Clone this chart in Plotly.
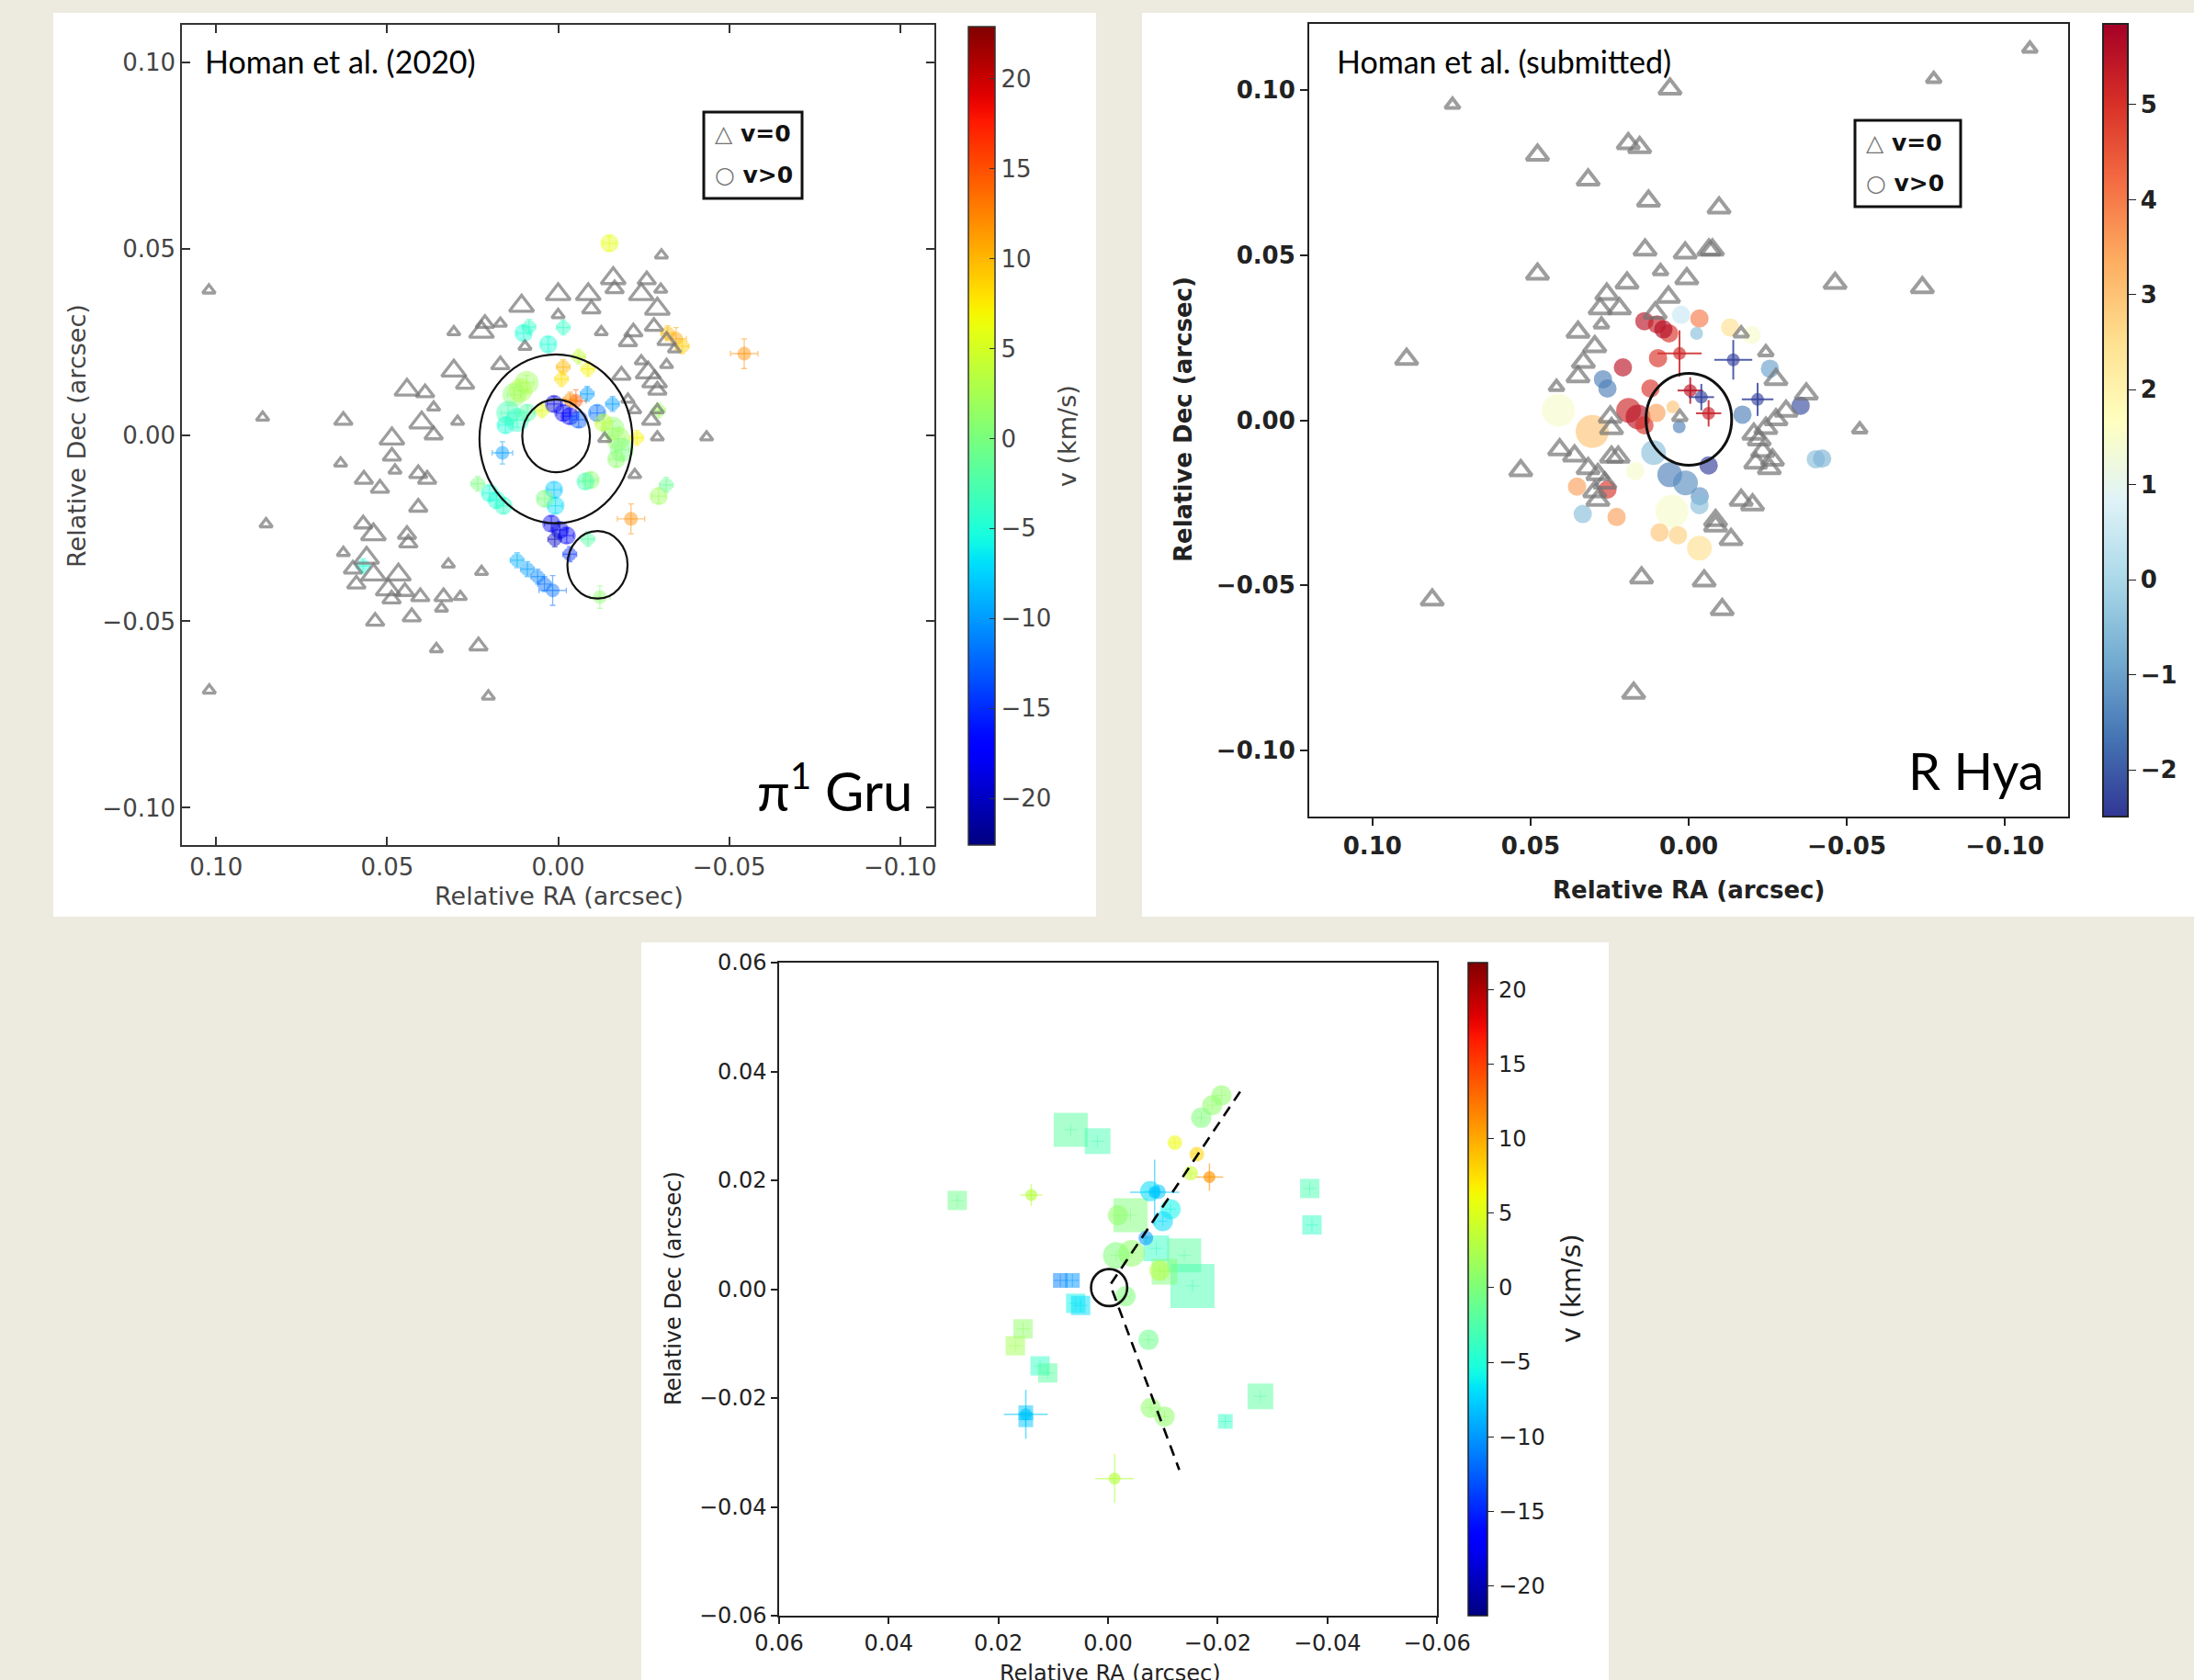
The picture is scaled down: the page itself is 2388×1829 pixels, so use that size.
import numpy as np
import plotly.graph_objects as go

W, H = 2388, 1829
def PX(px): return px / W
def PY(py): return 1 - py / H

# ======================= DATA =======================
# --- Panel A: pi1 Gru (Homan et al. 2020) ---
gru_tri_ra = [0.1021, 0.1020, 0.0864, 0.0854, 0.0628, 0.0636, 0.0628, 0.0568, 0.0570, 0.0521,
              0.0535, 0.0486, 0.0486, 0.0477, 0.0442, 0.0389, 0.0364, 0.0399, 0.0364, 0.0409,
              0.0383, 0.0409, 0.0294, 0.0305, 0.0305, 0.0272, 0.0224, 0.0214, 0.0169, 0.0169,
              0.0107, 0.0097, 0.0000, 0.0000, -0.0088, -0.0097, -0.0126, -0.0161, -0.0165, -0.0243,
              -0.0259, -0.0302, -0.0300, -0.0290, -0.0220, -0.0204, -0.0280, -0.0317, -0.0340, -0.0243,
              -0.0263, -0.0282, -0.0290, -0.0317, -0.0185, -0.0204, -0.0224, -0.0272, -0.0290, -0.0290,
              -0.0434, -0.0224, -0.0136, 0.0540, 0.0560, 0.0540, 0.0497, 0.0467, 0.0487, 0.0448,
              0.0403, 0.0428, 0.0321, 0.0335, 0.0341, 0.0286, 0.0356, 0.0224, 0.0233, 0.0204,
              0.0442, 0.0438, 0.0600, 0.0590]
gru_tri_dec = [0.0388, -0.0685, 0.0047, -0.0239, 0.0039, -0.0076, -0.0316, -0.0119, -0.0239, -0.0143,
               -0.0500, -0.0010, -0.0057, -0.0095, 0.0121, 0.0113, 0.0074, 0.0033, 0.0000, -0.0104,
               -0.0119, -0.0194, 0.0036, 0.0276, 0.0172, 0.0136, 0.0276, 0.0299, 0.0299, 0.0188,
               0.0346, 0.0237, 0.0377, 0.0322, 0.0377, 0.0338, 0.0276, 0.0420, 0.0392, 0.0377,
               0.0416, 0.0482, 0.0390, 0.0338, 0.0276, 0.0250, 0.0291, 0.0253, 0.0230, 0.0198,
               0.0167, 0.0143, 0.0120, 0.0188, 0.0160, 0.0095, 0.0067, 0.0039, 0.0067, -0.0006,
               -0.0006, -0.0107, -0.0010, -0.0267, -0.0330, -0.0375, -0.0415, -0.0375, -0.0440, -0.0420,
               -0.0434, -0.0488, -0.0347, -0.0434, -0.0465, -0.0434, -0.0574, -0.0367, -0.0566, -0.0701,
               -0.0267, -0.0290, -0.0360, -0.0400]
gru_tri_flux = [1, 1, 1, 1, 2, 1, 1, 2, 2, 2,
                2, 3, 2, 1, 3, 2, 1, 3, 2, 2,
                2, 2, 1, 1, 3, 2, 3, 2, 1, 2,
                3, 1, 3, 1, 3, 2, 1, 3, 2, 3,
                2, 1, 1, 3, 2, 2, 2, 2, 1, 1,
                3, 3, 2, 1, 2, 1, 1, 2, 1, 1,
                1, 1, 1, 3, 3, 3, 3, 3, 2, 2,
                2, 2, 1, 2, 1, 1, 1, 1, 2, 1,
                2, 2, 2, 2]

gru_ra = [-0.0150, 0.0101, 0.0085, 0.0029, -0.0015, -0.0015, -0.0010, -0.0087, 0.0092, 0.0128,
          0.0110, 0.0146, 0.0154, 0.0120, 0.0090, 0.0047, 0.0012, -0.0015, -0.0034, -0.0060,
          -0.0052, -0.0035, -0.0114, -0.0159, -0.0159, -0.0175, -0.0186, -0.0170, -0.0132, -0.0230,
          -0.0095, -0.0080, 0.0163, 0.0200, 0.0180, 0.0160, 0.0235, 0.0012, 0.0008, 0.0039,
          0.0020, -0.0005, -0.0025, 0.0010, -0.0034, 0.0120, 0.0090, 0.0060, 0.0040, 0.0016,
          -0.0087, -0.0122, -0.0294, -0.0316, -0.0213, -0.0544, -0.0320, -0.0345, -0.0363, -0.0294,
          0.0570, -0.0085, -0.0060]
gru_dec = [0.0514, 0.0273, 0.0290, 0.0243, 0.0288, 0.0182, 0.0150, 0.0177, 0.0140, 0.0108,
           0.0120, 0.0059, 0.0026, 0.0040, 0.0060, 0.0066, 0.0083, 0.0059, 0.0050, 0.0041,
           0.0091, 0.0095, 0.0059, 0.0083, 0.0017, -0.0010, -0.0040, -0.0065, 0.0033, -0.0008,
           -0.0121, -0.0125, -0.0048, -0.0156, -0.0175, -0.0190, -0.0131, -0.0147, -0.0190, -0.0171,
           -0.0238, -0.0255, -0.0270, -0.0280, -0.0320, -0.0336, -0.0360, -0.0380, -0.0400, -0.0417,
           -0.0279, -0.0435, -0.0164, -0.0134, -0.0225, 0.0218, 0.0273, 0.0258, 0.0238, 0.0066,
           -0.0352, 0.0110, 0.0210]
gru_v = [6, -5, -4, -5, -4, 10, 8, 7, 2, 1,
         3, -3, -5, -4, -2, 6, -19, -18, -17, -13,
         15, 12, -12, -10, 1, 2, 0, 1, 4, 7,
         1, -3, -10, -5, -5, -4, 0, -8, -7, 0,
         -18, -19, -17, -20, -15, -9, -10, -11, -12, -12,
         -2, 1, 2, -1, 12, 12, 10, 11, 9, 2,
         -5, -10, 4]
gru_flux = [2, 2, 1, 2, 1, 1, 1, 1, 3, 3,
            3, 3, 2, 3, 2, 1, 2, 2, 2, 2,
            1, 1, 2, 1, 3, 3, 3, 2, 2, 1,
            2, 2, 1, 2, 2, 2, 1, 2, 2, 2,
            2, 2, 2, 1, 1, 1, 1, 1, 1, 1,
            1, 1, 2, 1, 1, 1, 1, 1, 1, 1,
            1, 1, 1]
gru_err = [0.002, 0.002, 0.002, 0.002, 0.002, 0.002, 0.002, 0.002, 0.002, 0.002,
           0.002, 0.002, 0.002, 0.002, 0.002, 0.002, 0.002, 0.002, 0.002, 0.002,
           0.003, 0.002, 0.002, 0.002, 0.002, 0.002, 0.002, 0.002, 0.002, 0.002,
           0.002, 0.002, 0.003, 0.002, 0.002, 0.002, 0.002, 0.002, 0.002, 0.002,
           0.002, 0.002, 0.002, 0.002, 0.002, 0.002, 0.002, 0.002, 0.002, 0.004,
           0.002, 0.003, 0.002, 0.002, 0.004, 0.004, 0.002, 0.003, 0.002, 0.002,
           0.002, 0.002, 0.002]
gru_ticks = [0.10, 0.05, 0.00, -0.05, -0.10]
gru_cticks = [-20, -15, -10, -5, 0, 5, 10, 15, 20]

# --- Panel B: R Hya (Homan et al. submitted) ---
hya_tri_ra = [-0.1079, -0.0775, 0.0059, 0.0747, 0.0478, 0.0191, 0.0155, 0.0318, 0.0127, -0.0096,
              0.0138, 0.0011, -0.0064, -0.0075, 0.0478, 0.0089, 0.0006, -0.0463, -0.0739, 0.0195,
              0.0259, 0.0219, 0.0280, 0.0064, 0.0106, 0.0276, 0.0350, 0.0297, 0.0333, 0.0350,
              0.0418, 0.0892, -0.0166, -0.0244, -0.0276, -0.0372, -0.0541, -0.0223, -0.0244, -0.0276,
              -0.0308, -0.0234, -0.0265, -0.0212, -0.0255, -0.0206, 0.0248, 0.0244, 0.0408, 0.0361,
              0.0531, 0.0318, 0.0287, 0.0265, 0.0297, 0.0244, 0.0223, 0.0287, -0.0166, -0.0202,
              -0.0085, -0.0085, -0.0134, 0.0149, -0.0049, -0.0106, 0.0811, 0.0174, 0.0028]
hya_tri_dec = [0.1125, 0.1033, 0.1003, 0.0955, 0.0803, 0.0838, 0.0826, 0.0728, 0.0664, 0.0643,
               0.0516, 0.0507, 0.0516, 0.0516, 0.0443, 0.0451, 0.0429, 0.0415, 0.0402, 0.0416,
               0.0382, 0.0338, 0.0338, 0.0373, 0.0325, 0.0290, 0.0267, 0.0223, 0.0176, 0.0132,
               0.0101, 0.0185, 0.0263, 0.0206, 0.0124, 0.0080, -0.0028, -0.0059, -0.0024, 0.0002,
               0.0028, -0.0094, -0.0120, -0.0129, -0.0146, -0.0042, 0.0010, -0.0025, -0.0089, -0.0108,
               -0.0152, -0.0146, -0.0164, -0.0190, -0.0216, -0.0111, -0.0111, -0.0242, -0.0242, -0.0256,
               -0.0303, -0.0320, -0.0361, -0.0477, -0.0486, -0.0573, -0.0544, -0.0826, 0.0010]
hya_tri_flux = [1, 1, 2, 1, 2, 2, 2, 2, 2, 2,
                2, 2, 2, 2, 2, 1, 2, 2, 2, 2,
                2, 2, 2, 2, 2, 1, 2, 2, 2, 2,
                1, 2, 1, 1, 2, 2, 1, 2, 2, 2,
                2, 2, 2, 2, 2, 2, 2, 2, 2, 2,
                2, 2, 2, 2, 2, 2, 2, 2, 2, 2,
                2, 2, 2, 2, 2, 2, 2, 2, 1]

hya_ra = [0.0140, 0.0100, 0.0062, 0.0080, -0.0034, 0.0024, -0.0025, -0.0131, -0.0199, 0.0029,
          -0.0141, 0.0097, 0.0208, 0.0271, 0.0257, -0.0257, 0.0190, 0.0160, 0.0140, 0.0121,
          0.0102, 0.0050, -0.0005, -0.0040, -0.0063, -0.0218, -0.0170, -0.0354, 0.0412, 0.0305,
          -0.0402, -0.0422, 0.0111, 0.0030, 0.0169, 0.0060, 0.0010, -0.0035, -0.0063, -0.0034,
          0.0053, 0.0092, 0.0034, -0.0034, 0.0353, 0.0228, 0.0335, 0.0257]
hya_dec = [0.0300, 0.0290, 0.0263, 0.0275, 0.0308, 0.0319, 0.0263, 0.0281, 0.0258, 0.0202,
           0.0183, 0.0188, 0.0160, 0.0124, 0.0096, 0.0156, 0.0030, 0.0010, -0.0015, 0.0096,
           0.0022, 0.0040, 0.0090, 0.0070, 0.0021, 0.0063, 0.0017, 0.0044, 0.0030, -0.0034,
           -0.0118, -0.0116, -0.0098, -0.0020, -0.0154, -0.0165, -0.0190, -0.0230, -0.0137, -0.0257,
           -0.0276, -0.0340, -0.0348, -0.0387, -0.0201, -0.0293, -0.0284, -0.0210]
hya_v = [5.5, 5.3, 5.0, 5.6, 4.0, 0.5, -0.5, 2.5, 1.5, 5.2,
         -2.3, 5.0, 5.5, -1.5, -1.5, -1.0, 5.2, 5.5, 5.0, 5.0,
         3.5, 3.0, 5.5, -2.3, 5.3, -2.3, -1.5, -2.2, 1.5, 3.0,
         -0.5, -0.7, -0.5, -1.5, 1.5, -1.5, -1.3, -1.2, -2.4, -0.5,
         1.5, 3.0, 2.8, 2.5, 3.5, 3.5, -0.5, 5.0]
hya_flux = [2, 2, 2, 2, 2, 2, 1, 2, 2, 1,
            1, 2, 2, 2, 2, 2, 3, 3, 2, 2,
            2, 1, 1, 1, 1, 1, 2, 2, 4, 4,
            2, 2, 3, 1, 2, 3, 3, 2, 2, 2,
            4, 2, 2, 3, 2, 2, 2, 2]
hya_err = [0, 0, 0, 0, 0, 0, 0, 0, 0, 0.007,
           0.006, 0, 0, 0, 0, 0, 0, 0, 0, 0,
           0, 0, 0.004, 0.004, 0.004, 0.005, 0, 0, 0, 0,
           0, 0, 0, 0, 0, 0, 0, 0, 0, 0,
           0, 0, 0, 0, 0, 0, 0, 0]
hya_ticks = [0.10, 0.05, 0.00, -0.05, -0.10]
hya_cticks = [-2, -1, 0, 1, 2, 3, 4, 5]

# --- Panel C: bottom map ---
sq_ra = [0.0068, 0.0019, 0.0275, -0.0368, -0.0372, -0.0041, -0.0088, -0.0139, -0.0154, -0.0103,
         0.0087, 0.0065, 0.0059, 0.0050, 0.0155, 0.0169, 0.0124, 0.0110, -0.0278, -0.0214,
         0.0150, 0.0150]
sq_dec = [0.0293, 0.0272, 0.0163, 0.0185, 0.0118, 0.0136, 0.0075, 0.0062, 0.0006, 0.0032,
          0.0016, 0.0016, -0.0026, -0.0030, -0.0073, -0.0104, -0.0141, -0.0154, -0.0197, -0.0243,
          -0.0227, -0.0240]
sq_v = [-2, -3, -1, -3, -4, 0, -4, -2, -3, 0,
        -11, -10, -6, -7, 1, 2, -4, -2, -2, -4,
        -8, -8]
sq_flux = [4, 3, 2, 2, 2, 4, 3, 4, 5, 3,
           1, 1, 2, 2, 2, 2, 2, 2, 3, 1,
           1, 1]
ci_ra = [-0.0207, -0.0190, -0.0170, -0.0122, -0.0162, -0.0151, -0.0077, -0.0092, -0.0114, -0.0100,
         -0.0069, -0.0015, -0.0043, -0.0094, -0.0032, -0.0018, -0.0074, -0.0078, -0.0103]
ci_dec = [0.0356, 0.0338, 0.0315, 0.0269, 0.0248, 0.0213, 0.0180, 0.0179, 0.0147, 0.0125,
          0.0094, 0.0062, 0.0066, 0.0034, -0.0013, 0.0136, -0.0093, -0.0218, -0.0234]
ci_v = [1, 1, 0, 6, 8, 4, -7, -8, -6, -7,
        -10, 0, 1, 3, 0, 1, -1, 1, 1]
ci_flux = [2, 2, 2, 1, 1, 1, 2, 1, 2, 2,
           1, 3, 3, 2, 2, 2, 2, 2, 2]
cr_ra = [-0.0185, -0.0085, 0.0140, 0.0150, -0.0012]
cr_dec = [0.0206, 0.0178, 0.0173, -0.0230, -0.0348]
cr_v = [11, -8, 3, -8, 3]
cr_err_ra = [0.0025, 0.0045, 0.0020, 0.0040, 0.0035]
cr_err_dec = [0.0025, 0.0060, 0.0020, 0.0045, 0.0045]
dash_ra = [-0.0241, -0.0018, -0.0004, -0.0130]
dash_dec = [0.0363, 0.0031, 0.0008, -0.0332]
bot_ticks = [0.06, 0.04, 0.02, 0.00, -0.02, -0.04, -0.06]
bot_cticks = [-20, -15, -10, -5, 0, 5, 10, 15, 20]

# ======================= COLOUR MAPS =======================
JET_R = [(0, 0), (0.35, 0), (0.66, 1), (0.89, 1), (1, 0.5)]
JET_G = [(0, 0), (0.125, 0), (0.375, 1), (0.64, 1), (0.91, 0), (1, 0)]
JET_B = [(0, 0.5), (0.11, 1), (0.34, 1), (0.65, 0), (1, 0)]
def _ch(pts, t):
    xs, ys = zip(*pts)
    return float(np.interp(t, xs, ys))
jet_pos = np.linspace(0, 1, 61)
jet_rgb = np.array([[_ch(JET_R, t), _ch(JET_G, t), _ch(JET_B, t)] for t in jet_pos]) * 255

RDYLBU = ['#a50026', '#d73027', '#f46d43', '#fdae61', '#fee090', '#ffffbf',
          '#e0f3f8', '#abd9e9', '#74add1', '#4575b4', '#313695'][::-1]
rdb_pos = np.linspace(0, 1, 11)
rdb_rgb = np.array([[int(h[i:i + 2], 16) for i in (1, 3, 5)] for h in RDYLBU], float)

def make_scale(pos, rgb):
    return [[float(p), 'rgb(%d,%d,%d)' % tuple(np.round(c))] for p, c in zip(pos, rgb)]

def color_at(pos, rgb, v, vmin, vmax, alpha):
    t = min(max((v - vmin) / (vmax - vmin), 0), 1)
    c = [np.interp(t, pos, rgb[:, k]) for k in range(3)]
    return 'rgba(%d,%d,%d,%.2f)' % (c[0], c[1], c[2], alpha)

JET = make_scale(jet_pos, jet_rgb)
RDB = make_scale(rdb_pos, rdb_rgb)

fig = go.Figure()
GRAY = '#747474'

# ---------------- Panel A traces ----------------
GRU_MIN, GRU_MAX = -22.6, 22.9
for ra, de, v, e in zip(gru_ra, gru_dec, gru_v, gru_err):
    c = color_at(jet_pos, jet_rgb, v, GRU_MIN, GRU_MAX, 0.5)
    fig.add_trace(go.Scatter(
        x=[ra], y=[de], mode='markers', xaxis='x', yaxis='y',
        marker=dict(size=2, opacity=0),
        error_x=dict(type='data', array=[e], color=c, thickness=1.3, width=3),
        error_y=dict(type='data', array=[e], color=c, thickness=1.3, width=3),
        hoverinfo='skip', showlegend=False))
fig.add_trace(go.Scatter(
    x=gru_ra, y=gru_dec, mode='markers', xaxis='x', yaxis='y',
    marker=dict(size=[{1: 15, 2: 20, 3: 26}[f] for f in gru_flux], color=gru_v,
                colorscale=JET, cmin=GRU_MIN, cmax=GRU_MAX, opacity=0.45, line=dict(width=0),
                showscale=True,
                colorbar=dict(x=PX(1054), xanchor='left', y=PY(920), yanchor='bottom',
                              len=(920 - 29) / H, lenmode='fraction', thickness=29,
                              xpad=0, ypad=0, outlinewidth=1.5, outlinecolor='#333',
                              tickvals=gru_cticks, ticks='inside', ticklen=6, tickcolor='#333',
                              tickfont=dict(family='DejaVu Sans', size=26, color='#444'))),
    hoverinfo='skip', showlegend=False))
fig.add_trace(go.Scatter(
    x=gru_tri_ra, y=gru_tri_dec, mode='markers', xaxis='x', yaxis='y',
    marker=dict(symbol='triangle-up-open', size=[{1: 12, 2: 17, 3: 23}[f] for f in gru_tri_flux],
                color=GRAY, line=dict(width=3.3, color=GRAY)),
    hoverinfo='skip', showlegend=False))

# ---------------- Panel B traces ----------------
HYA_MIN, HYA_MAX = -2.49, 5.85
for ra, de, v, e in zip(hya_ra, hya_dec, hya_v, hya_err):
    if e > 0:
        c = color_at(rdb_pos, rdb_rgb, v, HYA_MIN, HYA_MAX, 0.85)
        fig.add_trace(go.Scatter(
            x=[ra], y=[de], mode='markers', xaxis='x2', yaxis='y2',
            marker=dict(size=2, opacity=0),
            error_x=dict(type='data', array=[e], color=c, thickness=2, width=0),
            error_y=dict(type='data', array=[e], color=c, thickness=2, width=0),
            hoverinfo='skip', showlegend=False))
fig.add_trace(go.Scatter(
    x=hya_ra, y=hya_dec, mode='markers', xaxis='x2', yaxis='y2',
    marker=dict(size=[{1: 14, 2: 20, 3: 27, 4: 36}[f] for f in hya_flux], color=hya_v,
                colorscale=RDB, cmin=HYA_MIN, cmax=HYA_MAX, opacity=0.65, line=dict(width=0),
                showscale=True,
                colorbar=dict(x=PX(2289), xanchor='left', y=PY(889), yanchor='bottom',
                              len=(889 - 26) / H, lenmode='fraction', thickness=27,
                              xpad=0, ypad=0, outlinewidth=2, outlinecolor='#222',
                              tickvals=hya_cticks, ticks='outside', ticklen=8, tickcolor='#222',
                              tickfont=dict(family='DejaVu Sans', size=26, color='#222', weight='bold'))),
    hoverinfo='skip', showlegend=False))
fig.add_trace(go.Scatter(
    x=hya_tri_ra, y=hya_tri_dec, mode='markers', xaxis='x2', yaxis='y2',
    marker=dict(symbol='triangle-up-open', size=[{1: 14, 2: 21}[f] for f in hya_tri_flux],
                color=GRAY, line=dict(width=4, color=GRAY)),
    hoverinfo='skip', showlegend=False))

# ---------------- Panel C traces ----------------
BOT_MIN, BOT_MAX = -22.0, 21.8
for ras, des, vs, eras, edes, alpha, thick in [
        (sq_ra, sq_dec, sq_v, [0.0012] * len(sq_ra), [0.0012] * len(sq_ra), 0.5, 1.0),
        (ci_ra, ci_dec, ci_v, [0.0010] * len(ci_ra), [0.0010] * len(ci_ra), 0.5, 1.0),
        (cr_ra, cr_dec, cr_v, cr_err_ra, cr_err_dec, 0.6, 1.5)]:
    for ra, de, v, ex, ey in zip(ras, des, vs, eras, edes):
        c = color_at(jet_pos, jet_rgb, v, BOT_MIN, BOT_MAX, alpha)
        fig.add_trace(go.Scatter(
            x=[ra], y=[de], mode='markers', xaxis='x3', yaxis='y3',
            marker=dict(size=2, opacity=0),
            error_x=dict(type='data', array=[ex], color=c, thickness=thick, width=0),
            error_y=dict(type='data', array=[ey], color=c, thickness=thick, width=0),
            hoverinfo='skip', showlegend=False))
fig.add_trace(go.Scatter(
    x=sq_ra, y=sq_dec, mode='markers', xaxis='x3', yaxis='y3',
    marker=dict(symbol='square', size=[{1: 16, 2: 21, 3: 28, 4: 37, 5: 48}[f] for f in sq_flux],
                color=sq_v, colorscale=JET, cmin=BOT_MIN, cmax=BOT_MAX, opacity=0.5, line=dict(width=0)),
    hoverinfo='skip', showlegend=False))
fig.add_trace(go.Scatter(
    x=ci_ra, y=ci_dec, mode='markers', xaxis='x3', yaxis='y3',
    marker=dict(symbol='circle', size=[{1: 16, 2: 22, 3: 29}[f] for f in ci_flux],
                color=ci_v, colorscale=JET, cmin=BOT_MIN, cmax=BOT_MAX, opacity=0.55, line=dict(width=0)),
    hoverinfo='skip', showlegend=False))
fig.add_trace(go.Scatter(
    x=cr_ra, y=cr_dec, mode='markers', xaxis='x3', yaxis='y3',
    marker=dict(symbol='circle', size=13, color=cr_v, colorscale=JET, cmin=BOT_MIN, cmax=BOT_MAX,
                opacity=0.65, line=dict(width=0), showscale=True,
                colorbar=dict(x=PX(1598), xanchor='left', y=PY(1759), yanchor='bottom',
                              len=(1759 - 1048) / H, lenmode='fraction', thickness=21,
                              xpad=0, ypad=0, outlinewidth=1.5, outlinecolor='#222',
                              tickvals=bot_cticks, ticks='outside', ticklen=7, tickcolor='#222',
                              tickfont=dict(family='DejaVu Sans', size=24, color='#222'))),
    hoverinfo='skip', showlegend=False))
fig.add_trace(go.Scatter(
    x=dash_ra, y=dash_dec, mode='lines', xaxis='x3', yaxis='y3',
    line=dict(color='black', width=2.6, dash='12px,8px'),
    hoverinfo='skip', showlegend=False))

# ======================= LAYOUT =======================
def axis(dom, anchor, rng, ticks, tdir, tlen, lc, lw, font, mirror):
    return dict(domain=dom, anchor=anchor, range=rng, tickvals=ticks, tickformat='.2f',
                ticks=tdir, ticklen=tlen, tickwidth=1.5, tickcolor=lc, showline=True,
                linecolor=lc, linewidth=lw, mirror=mirror, showgrid=False, zeroline=False,
                tickfont=font)

fA = dict(family='DejaVu Sans', size=26, color='#444')
fB = dict(family='DejaVu Sans', size=26, color='#222', weight='bold')
fC = dict(family='DejaVu Sans', size=24, color='#222')

layout = dict(
    width=W, height=H, margin=dict(l=0, r=0, t=0, b=0, pad=0, autoexpand=False),
    paper_bgcolor='#EDEADF', plot_bgcolor='white', showlegend=False,
    xaxis=axis([PX(198), PX(1017)], 'y', [0.11, -0.11], gru_ticks, 'inside', 9, '#333', 1.5, fA, 'ticks'),
    yaxis=axis([PY(920), PY(27)], 'x', [-0.11, 0.11], gru_ticks, 'inside', 9, '#333', 1.5, fA, 'ticks'),
    xaxis2=axis([PX(1425), PX(2251)], 'y2', [0.12, -0.12], hya_ticks, 'outside', 8, '#222', 2, fB, True),
    yaxis2=axis([PY(889), PY(26)], 'x2', [-0.12, 0.12], hya_ticks, 'outside', 8, '#222', 2, fB, True),
    xaxis3=axis([PX(848), PX(1564)], 'y3', [0.06, -0.06], bot_ticks, 'outside', 7, '#222', 1.5, fC, True),
    yaxis3=axis([PY(1759), PY(1048)], 'x3', [-0.06, 0.06], bot_ticks, 'outside', 7, '#222', 1.5, fC, True),
)
fig.update_layout(**layout)

# white panels behind the three plots
for (x0, y0, x1, y1) in [(58, 14, 1193, 998), (1243, 14, 2388, 998), (698, 1026, 1751, 1829)]:
    fig.add_shape(type='rect', xref='paper', yref='paper', x0=PX(x0), x1=PX(x1), y0=PY(y1), y1=PY(y0),
                  fillcolor='white', line=dict(width=0), layer='below')

# black rings (data coordinates)
for xr, yr, (ra0, ra1, de0, de1), lw in [
        ('x', 'y', (0.0230, -0.0217, -0.0237, 0.0216), 2.2),
        ('x', 'y', (0.0105, -0.0093, -0.0100, 0.0095), 2.2),
        ('x', 'y', (-0.0027, -0.0203, -0.0439, -0.0258), 2.2),
        ('x2', 'y2', (0.0135, -0.0136, -0.0136, 0.0142), 3),
        ('x3', 'y3', (0.0031, -0.0035, -0.0031, 0.0037), 2.6)]:
    fig.add_shape(type='circle', xref=xr, yref=yr, x0=ra0, x1=ra1, y0=de0, y1=de1,
                  line=dict(color='#111', width=lw), layer='above')

# legend boxes
for (x0, y0, x1, y1) in [(766, 122, 873, 216), (2019, 131, 2134, 225)]:
    fig.add_shape(type='rect', xref='paper', yref='paper', x0=PX(x0), x1=PX(x1), y0=PY(y1), y1=PY(y0),
                  fillcolor='white', line=dict(color='#111', width=3), layer='above')

ann = []
def A(text, x, y, size, family='DejaVu Sans', color='#222', angle=0, xanchor='center', weight='normal'):
    ann.append(dict(text=text, x=PX(x), y=PY(y), xref='paper', yref='paper', showarrow=False,
                    xanchor=xanchor, yanchor='middle', textangle=angle,
                    font=dict(family=family, size=size, color=color, weight=weight)))

tri = '<span style="color:#747474">\u25B3</span> v=0'
cir = '<span style="color:#747474">\u25CB</span> v&gt;0'
for x, y1, y2 in [(776, 146, 190), (2029, 155, 200)]:
    A(tri, x, y1, 25, xanchor='left', color='#111', weight='bold')
    A(cir, x, y2, 25, xanchor='left', color='#111', weight='bold')

A('Homan et al. (2020)', 221, 67, 34, family='Lato', color='black', xanchor='left')
A('Homan et al. (submitted)', 1453, 67, 34, family='Lato', color='black', xanchor='left')
A('\u03C0<sup>1</sup> Gru', 995, 857, 58, family='Lato', color='black', xanchor='right')
A('R Hya', 2227, 838, 56, family='Lato', color='black', xanchor='right')

A('Relative RA (arcsec)', 608, 975, 27, color='#444')
A('Relative Dec (arcsec)', 84, 475, 27, color='#444', angle=-90)
A('v (km/s)', 1162, 475, 27, color='#444', angle=-90)

A('Relative RA (arcsec)', 1838, 969, 26, color='#222', weight='bold')
A('Relative Dec (arcsec)', 1288, 457, 26, color='#222', angle=-90, weight='bold')

A('Relative RA (arcsec)', 1208, 1822, 24, color='#222')
A('Relative Dec (arcsec)', 733, 1403, 24, color='#222', angle=-90)
A('v (km/s)', 1710, 1403, 29, color='#222', angle=-90)

fig.update_layout(annotations=ann)
fig.write_html('out.html', config={'displayModeBar': False},
               post_script="document.body.style.margin='0';document.body.style.overflow='hidden';")
